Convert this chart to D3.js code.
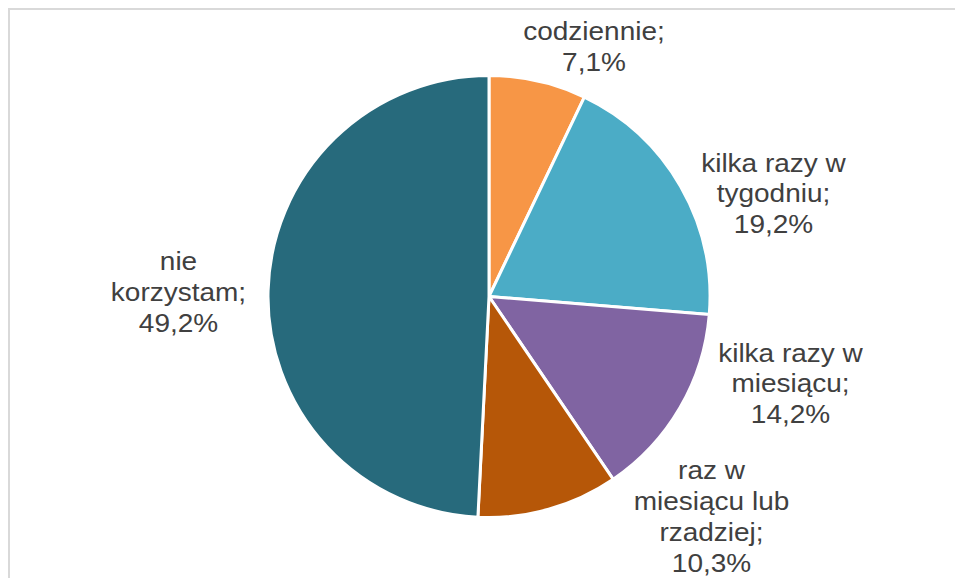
<!DOCTYPE html>
<html>
<head>
<meta charset="utf-8">
<script src="https://cdn.jsdelivr.net/npm/d3@7"></script>
<style>
  html, body { margin: 0; padding: 0; background: #fff; }
  svg { display: block; }
</style>
</head>
<body>
<svg id="chart" width="955" height="578"></svg>
<script>
// ---- data ----
const categories = ["codziennie", "kilka razy w tygodniu", "kilka razy w miesiącu", "raz w miesiącu lub rzadziej", "nie korzystam"];
const values = [7.1, 19.2, 14.2, 10.3, 49.2];
const labelLines = [
  ["codziennie;", "7,1%"],
  ["kilka razy w", "tygodniu;", "19,2%"],
  ["kilka razy w", "miesiącu;", "14,2%"],
  ["raz w", "miesiącu lub", "rzadziej;", "10,3%"],
  ["nie", "korzystam;", "49,2%"]
];
const colors = ["#F79646", "#4BACC6", "#8064A2", "#B65708", "#276A7C"];

// ---- layout ----
const W = 955, H = 578;
const cx = 489, cy = 296.5, R = 221;
const labelPos = [[594, 40], [773.5, 171.5], [790.5, 361.5], [711.5, 479], [178.5, 270]];
const lineH = 31;

const svg = d3.select("#chart");

svg.append("rect")
  .attr("x", 9).attr("y", 9)
  .attr("width", 1200).attr("height", 1200)
  .attr("fill", "none")
  .attr("stroke", "#d9d9d9")
  .attr("stroke-width", 2);

const data = categories.map((c, i) => ({ name: c, value: values[i], lines: labelLines[i], color: colors[i] }));

const pie = d3.pie().value(d => d.value).sort(null);
const arc = d3.arc().innerRadius(0).outerRadius(R);

const g = svg.append("g").attr("transform", `translate(${cx},${cy})`);
g.selectAll("path")
  .data(pie(data))
  .join("path")
  .attr("d", arc)
  .attr("fill", d => d.data.color)
  .attr("stroke", "#ffffff")
  .attr("stroke-width", 3)
  .attr("stroke-linejoin", "round");

const labels = svg.selectAll("g.lbl")
  .data(data)
  .join("g")
  .attr("class", "lbl")
  .attr("transform", (d, i) => `translate(${labelPos[i][0]},${labelPos[i][1]}) scale(1.12,1)`);

labels.each(function(d) {
  const t = d3.select(this).append("text")
    .attr("text-anchor", "middle")
    .attr("font-family", "'Liberation Sans', Arial, sans-serif")
    .attr("font-size", 25)
    .attr("fill", "#404040");
  d.lines.forEach((ln, j) => {
    t.append("tspan").attr("x", 0).attr("y", j * lineH).text(ln);
  });
});
</script>
</body>
</html>
